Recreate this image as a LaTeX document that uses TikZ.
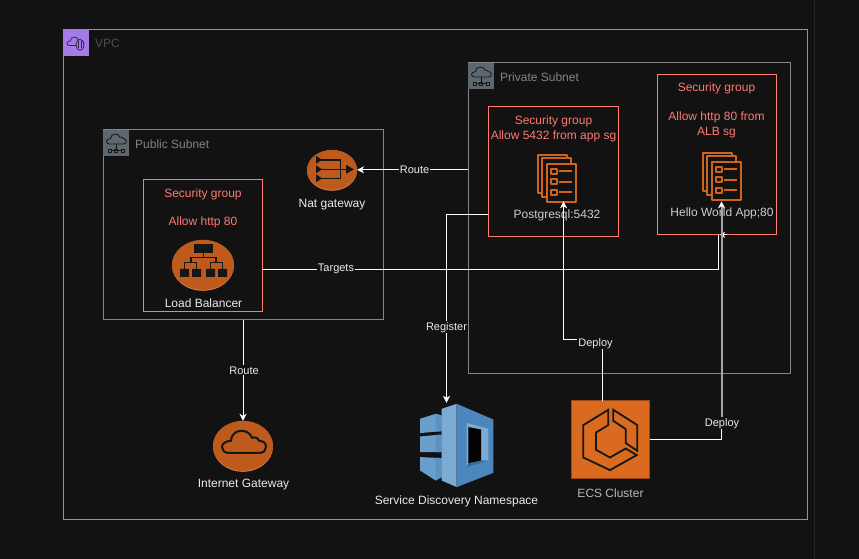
\documentclass[tikz,border=0pt]{standalone}
\usepackage{fontspec}
\setmainfont{Liberation Sans}
\usetikzlibrary{arrows.meta,shapes.geometric}
\definecolor{bgdark}{HTML}{121212}
\definecolor{vpcline}{HTML}{A67BE8}
\definecolor{subline}{HTML}{7D868B}
\definecolor{subfill}{HTML}{5C686E}
\definecolor{sgred}{HTML}{FF7A70}
\definecolor{awsorange}{HTML}{BE5A1C}
\definecolor{awsedge}{HTML}{D8794A}
\definecolor{docorange}{HTML}{D0641A}
\definecolor{ecsorange}{HTML}{D96A20}
\definecolor{softtext}{HTML}{C8CED6}
\definecolor{iconink}{HTML}{161616}
\definecolor{sdnlight}{HTML}{7CAAD2}
\definecolor{sdnslab}{HTML}{6A9FCC}
\definecolor{sdnshade}{HTML}{5A92C2}
\definecolor{sdnblue}{HTML}{4B87BC}
\definecolor{sdndeep}{HTML}{376A98}
\newcommand{\cloudoutline}{(-15,7) -- (17,7) .. controls (21,7) and (23,4) .. (23,1)
  .. controls (23,-3) and (20,-5) .. (16,-5) .. controls (15,-8) and (12,-9) .. (9,-8)
  .. controls (7,-13) and (3,-15) .. (-2,-15) .. controls (-8,-15) and (-12,-10) .. (-12,-5)
  .. controls (-17,-5) and (-21,-2) .. (-21,1) .. controls (-21,4) and (-19,7) .. (-15,7) -- cycle}
\tikzset{
  framebox/.style={draw, line width=1pt, inner sep=0pt, outer sep=0pt, fill=none},
  sgbox/.style={framebox, draw=sgred},
  sgtext/.style={text=sgred, align=center, font=\fontsize{12}{14.4}\selectfont, inner sep=0pt},
  title/.style={anchor=west, inner sep=0pt, font=\fontsize{12}{14.4}\selectfont},
  caption/.style={text=white!92!black, inner sep=0pt, font=\fontsize{12}{14.4}\selectfont},
  softcaption/.style={text=softtext, inner sep=0pt, font=\fontsize{12}{14.4}\selectfont},
  ball/.style={ellipse, fill=awsorange, inner sep=0pt, outer sep=0pt},
  flow/.style={white, line width=1pt, -{Stealth[length=7pt,width=7pt,inset=2pt]}},
  flowline/.style={white, line width=1pt},
  lbl/.style={fill=bgdark, text=white!92!black, inner sep=1pt, font=\fontsize{11}{12}\selectfont},
  subnetmark/.pic={
    \fill[subfill] (0,0) rectangle (26,26);
    \draw[iconink, line width=.8pt, shift={(13,11)}, scale=.45] \cloudoutline;
    \draw[iconink, line width=.8pt] (13,14) -- (13,21) (8,21) -- (18,21);
    \draw[iconink, line width=.8pt] (5,19.5) rectangle (8,22.5) (18,19.5) rectangle (21,22.5) (11.5,19.5) rectangle (14.5,22.5);
  },
  docstack/.pic={
    \begin{scope}[docorange, line width=2pt, line join=round, fill=bgdark]
      \filldraw (-23,-28) rectangle (6,10);
      \filldraw (-19,-25) rectangle (10,14);
      \filldraw (-14,-19) rectangle (15,19);
      \foreach \rowy in {-11.5,-1,9.5} {
        \draw (-10,\rowy-2.5) rectangle (-4.5,\rowy+2.5);
        \draw (-2,\rowy) -- (11,\rowy);
      }
    \end{scope}
  }
}
\begin{document}
\begin{tikzpicture}[x=1pt,y=-1pt]
\useasboundingbox (0,0) rectangle (859,559);
\fill[bgdark] (0,0) rectangle (859,559);
\draw[white!15!black, line width=1.5pt] (814.5,0) -- (814.5,559);
\begin{scope}[yshift=-0.8pt]

% outer frames
\node[framebox, draw=vpcline, minimum width=744pt, minimum height=490pt] (vpc) at (435,274) {};
\node[framebox, draw=subline, minimum width=280pt, minimum height=190pt] (pubsub) at (243,224) {};
\node[framebox, draw=subline, minimum width=322pt, minimum height=311pt] (privsub) at (629,217.5) {};
\node[sgbox, minimum width=119pt, minimum height=132pt] (lbsg) at (202.5,245) {};
\node[sgbox, minimum width=130pt, minimum height=130pt] (dbsg) at (553,171) {};
\node[sgbox, minimum width=119pt, minimum height=160pt] (appsg) at (716.5,154) {};

% title icons
\fill[vpcline] (63,29) rectangle (89,55);
\draw[iconink!80!vpcline, line width=.8pt, shift={(75,42)}, scale=.38] \cloudoutline;
\draw[iconink!80!vpcline, fill=vpcline, line width=.8pt] (80,44) ellipse (4pt and 5.5pt);
\draw[iconink!80!vpcline, line width=.7pt] (78.5,40.5) -- (78.5,47.5) (81.5,40.5) -- (81.5,47.5);
\pic at (103,129) {subnetmark};
\pic at (468,62) {subnetmark};
\node[title, text=subline!60!black] (vpctitle) at (95,43) {VPC};
\node[title, text=subline] (pubtitle) at (135,143) {Public Subnet};
\node[title, text=subline] (privtitle) at (500,76) {Private Subnet};

% security group texts
\node[sgtext] (lbsgtext) at (203,207.5) {Security group\\[14.4pt]Allow http 80};
\node[sgtext] (dbsgtext) at (553.5,128) {Security group\\Allow 5432 from app sg};
\node[sgtext] (appsgtext) at (716.5,109.5) {Security group\\[14.4pt]Allow http 80 from\\ALB sg};

% nat gateway
\fill[awsedge] (332,170) ellipse (25pt and 20pt);
\node[ball, minimum width=50pt, minimum height=40pt] (nat) at (332,169) {};
\begin{scope}[iconink, line width=1.6pt]
  \draw (319,159) -- (340.5,159) -- (340.5,177.5) -- (319,177.5);
  \draw (319,168.5) -- (347,168.5);
  \fill (316,155) -- (322,159) -- (316,163) -- cycle;
  \fill (316,164.5) -- (322,168.5) -- (316,172.5) -- cycle;
  \fill (316,173.5) -- (322,177.5) -- (316,181.5) -- cycle;
  \fill (346,164) -- (354,168.5) -- (346,173) -- cycle;
\end{scope}
\node[caption] (natname) at (332,203.5) {Nat gateway};

% load balancer
\fill[awsedge] (203,265) ellipse (31pt and 25pt);
\node[ball, minimum width=62pt, minimum height=50pt] (lb) at (203,264) {};
\begin{scope}[iconink, line width=1.2pt]
  \fill (194,243) rectangle (213,252);
  \draw (203.5,252) -- (203.5,257) (191,262) -- (191,257) -- (216,257) -- (216,262);
  \draw (184.5,268) -- (184.5,262) -- (196.5,262) -- (196.5,268);
  \draw (210.5,268) -- (210.5,262) -- (222.5,262) -- (222.5,268);
  \fill (180,268) rectangle (189,276) (192,268) rectangle (201,276);
  \fill (206,268) rectangle (215,276) (218,268) rectangle (227,276);
\end{scope}
\node[caption] (lbname) at (203.5,302) {Load Balancer};

% internet gateway
\fill[awsedge] (243,446) ellipse (30pt and 25pt);
\node[ball, minimum width=60pt, minimum height=50pt] (igw) at (243,445) {};
\draw[iconink, line width=2pt, shift={(243,445)}] \cloudoutline;
\node[caption] (igwname) at (243.5,483.5) {Internet Gateway};

% task definitions
\node[inner sep=0pt, minimum width=39pt, minimum height=38pt] (dbicon) at (561,182) {};
\pic at (561,182) {docstack};
\node[softcaption] (dbname) at (557,214.5) {Postgresql:5432};
\node[inner sep=0pt, minimum width=39pt, minimum height=38pt] (appicon) at (726,180) {};
\pic at (726,180) {docstack};
\node[softcaption] (appname) at (722,213) {Hello World App;80};

% service discovery
\node[inner sep=0pt, minimum width=73pt, minimum height=84pt] (sdn) at (456.5,444.5) {};
\fill[sdnslab] (420,418) -- (435.7,413) -- (441.7,414.7) -- (441.7,430.3) -- (420,432.3) -- cycle;
\fill[sdnslab] (420,435.7) -- (441.7,433.7) -- (441.7,451.3) -- (420,451.3) -- cycle;
\fill[sdnslab] (420,456.3) -- (441.7,457.3) -- (441.7,476.3) -- (435.7,479.7) -- (420,469.7) -- cycle;
\fill[sdnshade] (435.7,413) -- (441.7,414.7) -- (441.7,430.3) -- (435.7,431) -- cycle;
\fill[sdnshade] (435.7,434.3) -- (441.7,433.7) -- (441.7,451.3) -- (435.7,451.3) -- cycle;
\fill[sdnshade] (435.7,457) -- (441.7,457.3) -- (441.7,476.3) -- (435.7,479.7) -- cycle;
\fill[sdnlight] (441.7,408) -- (456.7,403) -- (456.7,486.3) -- (441.7,479.7) -- cycle;
\fill[sdnblue] (456.7,403) -- (493.3,418.7) -- (493.3,472) -- (456.7,486.3) -- cycle;
\fill[sdnlight] (466.7,422) -- (488.3,428) -- (488.3,459.7) -- (481,459.7) -- (481,428.7) -- (468.3,426.3) -- (468.3,462.3) -- (466.7,466.3) -- cycle;
\fill[sdndeep] (466.7,466.3) -- (468.3,462.3) -- (481,459.7) -- (488.3,459.7) -- cycle;
\fill[black!85!bgdark] (468.3,426.3) -- (481,428.7) -- (481,459.7) -- (468.3,462.3) -- cycle;
\node[caption] (sdnname) at (456.5,500.5) {Service Discovery Namespace};

% ecs cluster
\node[draw=awsorange!80!black, fill=ecsorange, line width=.8pt, inner sep=0pt, outer sep=0pt, minimum width=78pt, minimum height=78pt] (ecs) at (610.5,439) {};
\begin{scope}[iconink, line width=1.8pt, line join=miter]
  \draw (608.3,409) -- (583.3,424.3) -- (583.3,456.7) -- (610,469.3) -- (636.7,454.3) -- (625.7,447.7) -- (610,456.7) -- (596,449) -- (596,431.7) -- (608.3,424.3) -- cycle;
  \draw (613.3,409) -- (637.3,424.3) -- (637.3,450) -- (625.7,442.3) -- (625.7,428.3) -- (613.3,420) -- cycle;
\end{scope}
\node[softcaption, text=softtext!90!black] (ecsname) at (610.5,492.5) {ECS Cluster};

% connectors
\coordinate (regturn) at (446.5,214);
\coordinate (sdntip) at (446.5,402);
\coordinate (tgtturn) at (718.5,269);
\coordinate (tgtend) at (718.5,234);
\coordinate (tgttip) at (720,234);
\coordinate (tgtstub) at (727,234);
\coordinate (ecstop) at (602.5,400);
\coordinate (dbturn) at (563.5,339);
\coordinate (dbtip) at (563.5,200.5);
\coordinate (ecsout) at (721.5,439);
\coordinate (appmid) at (721.5,425);
\coordinate (apptip) at (721.5,200.5);
\draw[flow] (privsub.west |- nat) -- (nat.east);
\draw[flow] (pubsub.south -| igw) -- (igw.north);
\draw[flow] (dbsg.west |- regturn) -- (regturn) -- (sdntip);
\draw[flowline] (lbsg.east |- tgtturn) -- (tgtturn) -- (tgtend);
\draw[flow, -{Stealth[length=5pt,width=6pt,inset=1.5pt]}] (tgtstub) -- (tgttip);
\draw[flow] (ecstop) |- (dbturn) -- (dbtip);
\draw[flowline] (ecs.east |- ecsout) -- (ecsout) -- (appmid);
\draw[gray!70!white, line width=2pt, -{Stealth[length=7pt,width=7pt,inset=2pt,color=white]}] (appmid) -- (apptip);
\node[lbl] (routea) at (414.5,168.5) {Route};
\node[lbl] (routeb) at (244,369.5) {Route};
\node[lbl] (targets) at (336,268) {Targets};
\node[lbl] (register) at (446.5,326.5) {Register};
\node[lbl] (deploya) at (595.5,342.5) {Deploy};
\node[lbl] (deployb) at (722,422.5) {Deploy};
\end{scope}
\end{tikzpicture}
\end{document}
